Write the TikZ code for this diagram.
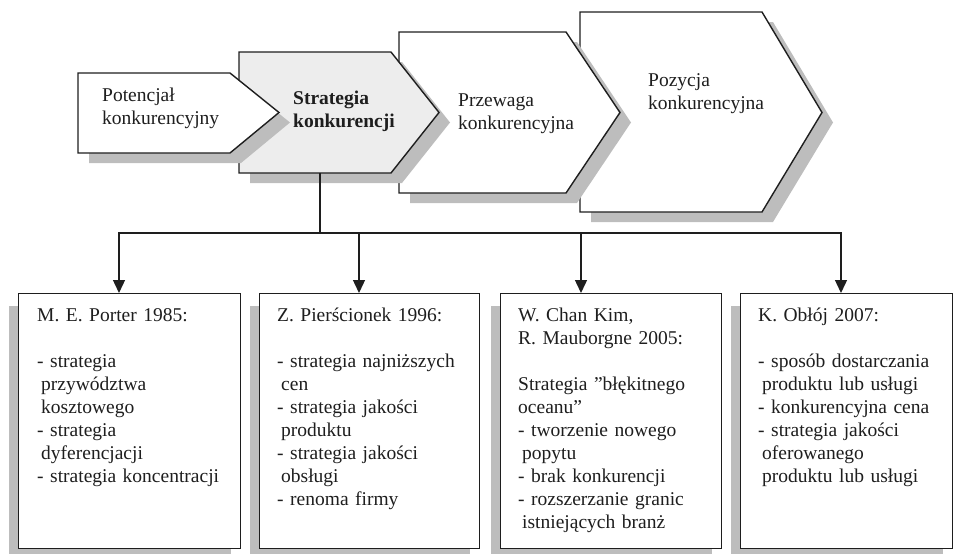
\documentclass[tikz,border=0pt]{standalone}
\usepackage{fontspec}
\setmainfont{Liberation Serif}
\usetikzlibrary{arrows.meta,shadows}
\definecolor{shd}{HTML}{BDBDBD}
\definecolor{cfill}{HTML}{EDEDED}
\definecolor{ink}{HTML}{1E1E1E}
\tikzset{
 outline/.style={draw=ink, line width=1.4pt, line join=miter},
 lbl/.style={anchor=base west, inner sep=0pt, text width=215pt, align=left, font=\fontsize{19.5}{23}\selectfont, text=ink},
 boxshadow/.style={drop shadow={shadow xshift=-10pt, shadow yshift=-12pt, fill=shd, opacity=1}},
 box/.style={outline, fill=white, anchor=north west, inner sep=0pt, minimum height=255pt, boxshadow},
 conn/.style={draw=ink, line width=1.4pt},
 arr/.style={conn, -{Triangle[length=13pt,width=12pt]}},
}
\newcommand\chevshape[6]{%
 \begin{scope}[shift={(11,10)}]\fill[shd] (#2,#3) -- (#4,#3) -- (#5,112.5) -- (#4,#6) -- (#2,#6) -- cycle;\end{scope}
 \path[outline, fill=#1] (#2,#3) -- (#4,#3) -- (#5,112.5) -- (#4,#6) -- (#2,#6) -- cycle;}
\begin{document}
\begin{tikzpicture}[x=1pt,y=-1pt]
\useasboundingbox (0,0) rectangle (954,554);
% chevrons (right to left)
\chevshape{white}{580}{12}{762}{822}{212}
\chevshape{white}{399}{32}{566}{620}{193}
\chevshape{cfill}{239}{52}{391}{439}{173}
\chevshape{white}{78}{73}{230}{279}{153}
\node[lbl] (t1) at (102,101) {Potencjał\\konkurencyjny};
\node[lbl, font=\fontsize{19.5}{23}\selectfont\bfseries] (t2) at (293,104) {Strategia\\konkurencji};
\node[lbl] (t3) at (458,106) {Przewaga\\konkurencyjna};
\node[lbl] (t4) at (648,86) {Pozycja\\konkurencyjna};
% boxes
\node[box, minimum width=222pt] (b1) at (18,293) {};
\node[box, minimum width=220pt] (b2) at (259,293) {};
\node[box, minimum width=221pt] (b3) at (500,293) {};
\node[box, minimum width=212pt] (b4) at (740,293) {};
\node[lbl] (p1) at (37,321) {M. E. Porter 1985:\\[23pt]
- strategia\\ \hspace*{4pt}przywództwa\\ \hspace*{4pt}kosztowego\\
- strategia\\ \hspace*{4pt}dyferencjacji\\ - strategia koncentracji};
\node[lbl] (p2) at (277,321) {Z. Pierścionek 1996:\\[23pt]
- strategia najniższych\\ \hspace*{4pt}cen\\ - strategia jakości\\ \hspace*{4pt}produktu\\
- strategia jakości\\ \hspace*{4pt}obsługi\\ - renoma firmy};
\node[lbl] (p3) at (518,321) {W. Chan Kim,\\ R. Mauborgne 2005:\\[23pt]
Strategia ”błękitnego\\ oceanu”\\ - tworzenie nowego\\ \hspace*{4pt}popytu\\
- brak konkurencji\\ - rozszerzanie granic\\ \hspace*{4pt}istniejących branż};
\node[lbl] (p4) at (758,321) {K. Obłój 2007:\\[23pt]
- sposób dostarczania\\ \hspace*{4pt}produktu lub usługi\\ - konkurencyjna cena\\
- strategia jakości\\ \hspace*{4pt}oferowanego\\ \hspace*{4pt}produktu lub usługi};
% connectors
\coordinate (c2b) at (320,173);
\coordinate (j) at (320,233);
\coordinate (h1) at (119,233);
\coordinate (h2) at (359,233);
\coordinate (h3) at (581,233);
\coordinate (h4) at (841,233);
\draw[conn] (c2b) -- (j);
\draw[arr] (j) -| (h1 |- b1.north);
\draw[arr] (j) -| (h2 |- b2.north);
\draw[arr] (j) -| (h3 |- b3.north);
\draw[arr] (j) -| (h4 |- b4.north);
\end{tikzpicture}
\end{document}
